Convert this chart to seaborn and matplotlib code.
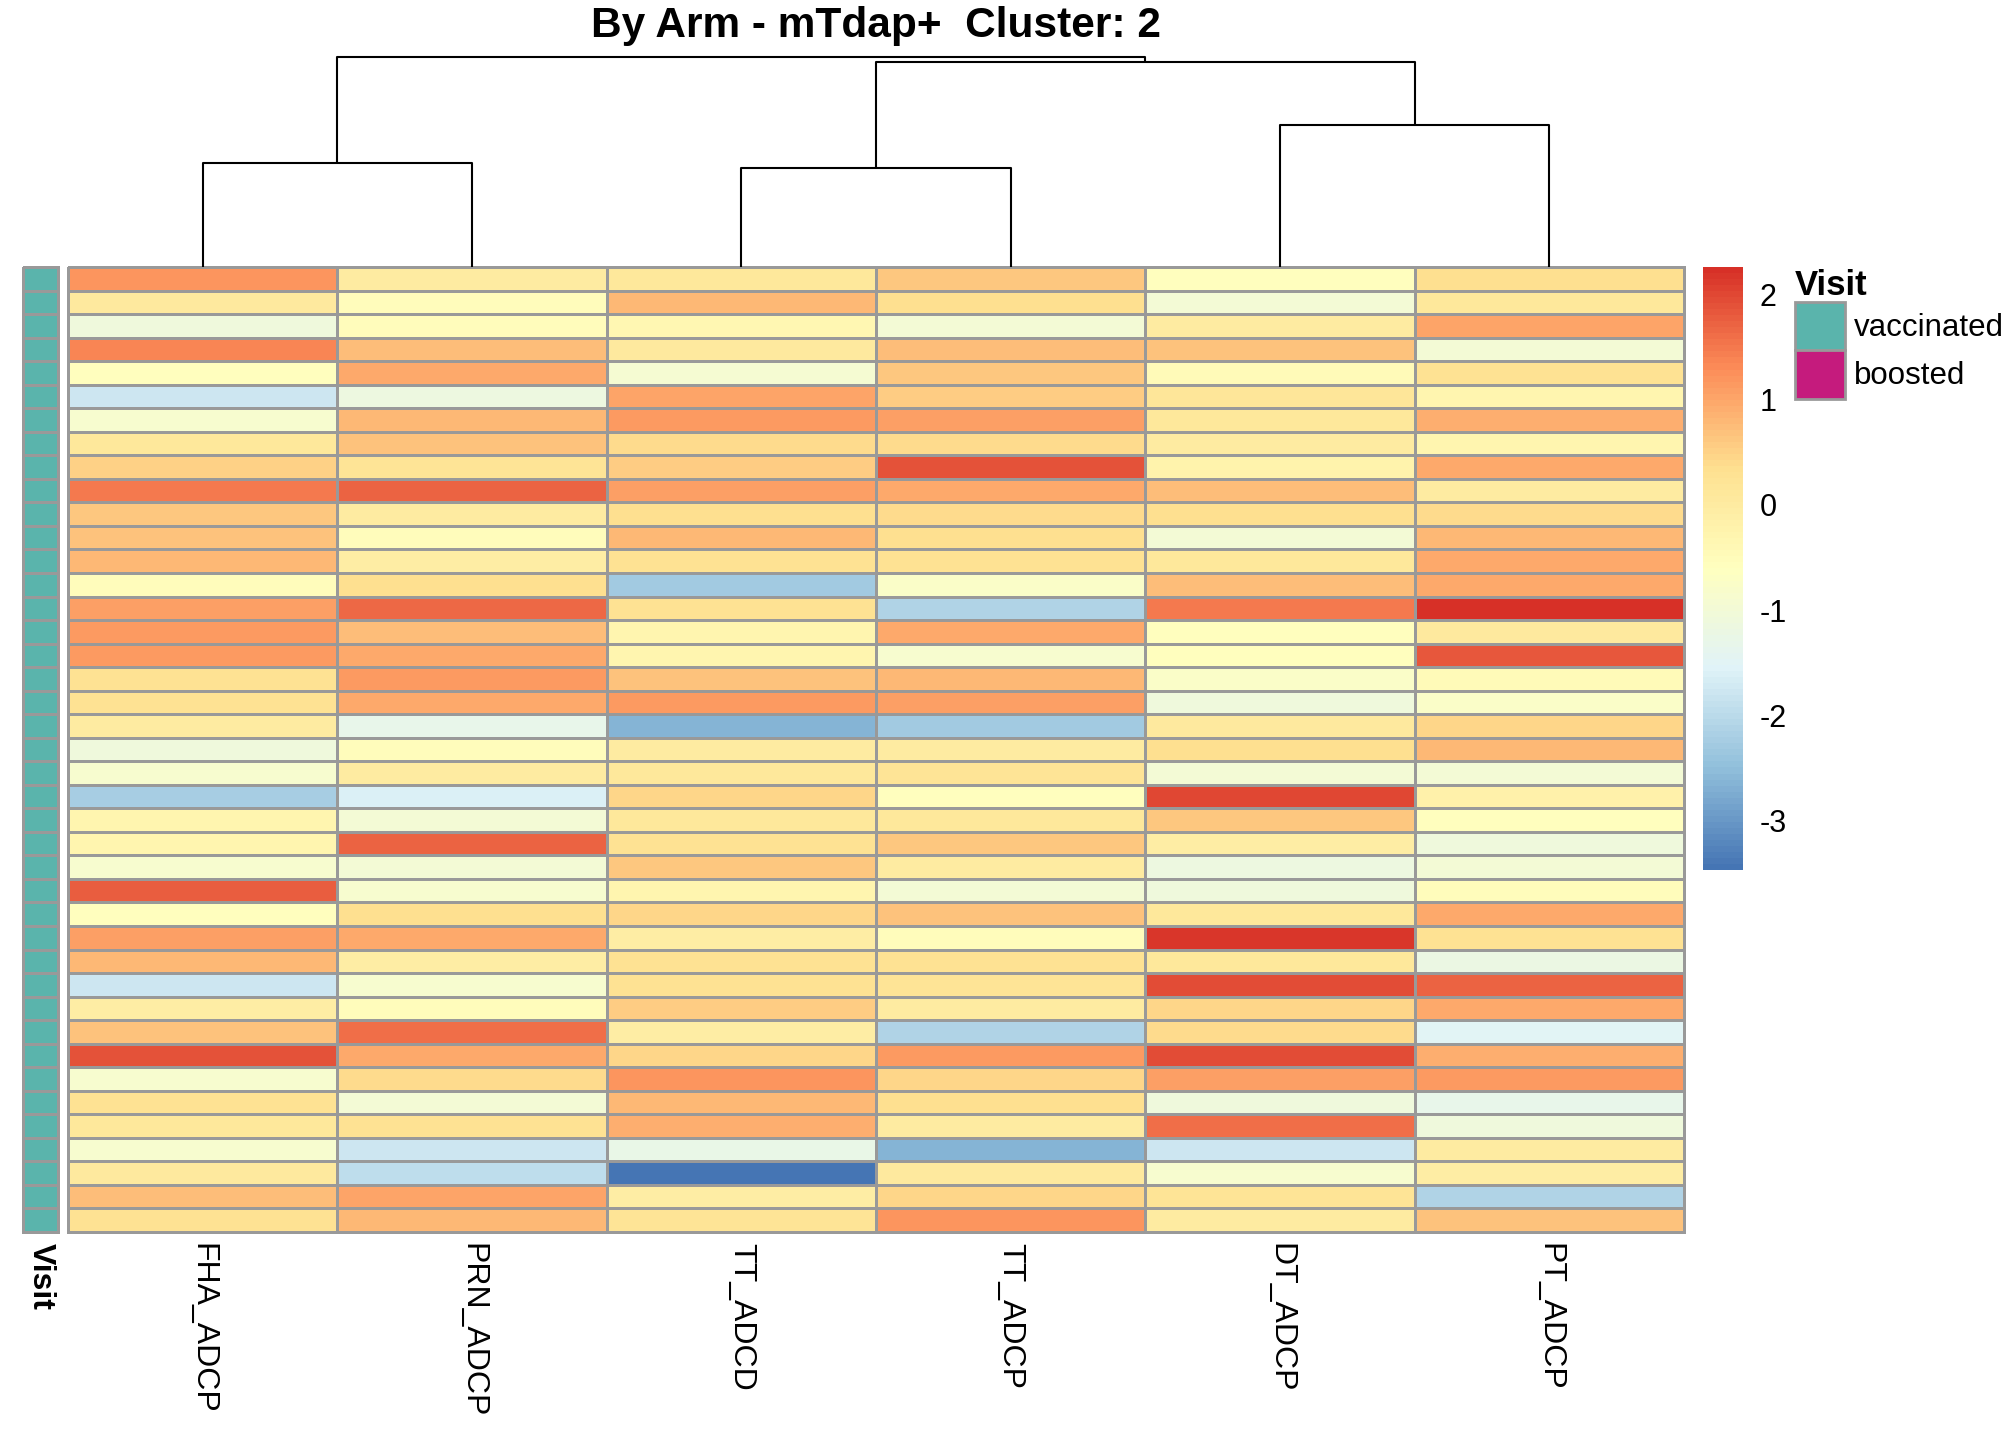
import numpy as np
import pandas as pd
import matplotlib
matplotlib.use("Agg")
import matplotlib.pyplot as plt
import seaborn as sns
from matplotlib.colors import LinearSegmentedColormap, ListedColormap
from matplotlib.patches import Patch

sns.set_style("white")
plt.rcParams['font.family'] = ['Liberation Sans', 'DejaVu Sans']
plt.rcParams['text.color'] = 'black'
plt.rcParams['xtick.color'] = 'black'
plt.rcParams['ytick.color'] = 'black'
plt.rcParams['axes.unicode_minus'] = False

# column order after clustering
features = ["FHA_ADCP", "PRN_ADCP", "TT_ADCD", "TT_ADCP", "DT_ADCP", "PT_ADCP"]

# scaled values, one list per feature (41 samples, top to bottom)
fha_adcp = [1.2, 0.05, -1.1, 1.4, -0.55, -1.8, -0.85, 0.1, 0.5, 1.5,
            0.6, 0.67, 0.78, -0.5, 1.1, 1.15, 1.15, 0.3, 0.3, 0.0,
            -1.1, -0.85, -2.25, -0.3, -0.3, -0.85, 1.75, -0.6, 1.1, 0.8,
            -1.8, -0.05, 0.67, 1.9, -0.85, 0.3, 0.1, -0.85, 0.05, 0.75, 0.3]
prn_adcp = [0.0, -0.5, -0.5, 0.72, 0.95, -1.15, 0.8, 0.67, 0.25, 1.7,
            0.0, -0.5, -0.05, 0.35, 1.65, 0.72, 0.95, 1.17, 0.95, -1.3,
            -0.5, 0.02, -1.6, -0.95, 1.7, -0.95, -0.85, 0.35, 0.97, -0.05,
            -0.85, -0.5, 1.62, 0.95, 0.37, -1.0, 0.3, -1.8, -1.95, 1.05, 0.78]
tt_adcd = [0.1, 0.8, -0.35, 0.08, -0.92, 1.05, 1.15, 0.4, 0.57, 1.1,
           0.35, 0.8, 0.3, -2.3, 0.3, -0.3, -0.3, 0.67, 1.15, -2.65,
           0.02, 0.1, 0.48, 0.1, 0.3, 0.64, -0.3, 0.48, -0.05, 0.3,
           0.3, 0.55, -0.08, 0.45, 1.2, 0.8, 0.92, -1.25, -3.47, -0.08, 0.22]
tt_adcp = [0.6, 0.35, -0.95, 0.72, 0.6, 0.57, 1.1, 0.4, 1.9, 0.95,
           0.4, 0.35, 0.3, -0.75, -2.15, 0.98, -0.85, 0.8, 1.08, -2.3,
           0.02, 0.22, -0.6, 0.1, 0.6, 0.0, -0.95, 0.67, -0.5, 0.3,
           0.22, 0.0, -2.1, 1.17, 0.48, 0.35, 0.0, -2.65, 0.05, 0.45, 1.2]
dt_adcp = [-0.55, -1.0, 0.0, 0.67, -0.45, 0.15, 0.1, 0.02, -0.25, 0.72,
           0.35, -1.0, 0.1, 0.75, 1.5, -0.55, -0.6, -0.75, -1.1, 0.08,
           0.35, -0.95, 2.0, 0.6, -0.05, -1.15, -1.1, 0.1, 2.2, 0.1,
           1.95, 0.45, 0.4, 1.93, 1.1, -1.1, 1.62, -1.8, -0.85, 0.22, 0.02]
pt_adcp = [0.35, 0.1, 1.05, -1.0, 0.3, -0.3, 0.92, -0.3, 0.98, 0.02,
           0.4, 0.78, 0.95, 0.98, 2.26, 0.05, 1.82, -0.45, -0.75, 0.45,
           0.8, -0.95, -0.2, -0.6, -1.1, -0.95, -0.5, 0.95, 0.3, -1.2,
           1.7, 0.95, -1.5, 0.92, 1.17, -1.3, -1.1, 0.0, -0.05, -2.1, 0.67]

visit = ["vaccinated"] * 41
visit_levels = ["vaccinated", "boosted"]
visit_colors = ["#5AB4AC", "#C51B7D"]

# column dendrogram: (left node, right node, height); leaves are 0..5
merges = [(0, 1, 0.81), (2, 3, 0.77), (4, 5, 1.10), (7, 8, 1.59), (6, 9, 1.63)]

df = pd.DataFrame({"FHA_ADCP": fha_adcp, "PRN_ADCP": prn_adcp, "TT_ADCD": tt_adcd,
                   "TT_ADCP": tt_adcp, "DT_ADCP": dt_adcp, "PT_ADCP": pt_adcp})[features]

palette = ["#4575B4", "#91BFDB", "#E0F3F8", "#FFFFBF", "#FEE090", "#FC8D59", "#D73027"]
cmap = LinearSegmentedColormap.from_list("rdylbu_r", palette, N=100)
grid = "#999999"

W, H = 2016, 1440
fig = plt.figure(figsize=(W / 100, H / 100), dpi=100)

def box(x0, y0, x1, y1):
    return [x0 / W, 1 - y1 / H, (x1 - x0) / W, (y1 - y0) / H]

ax = fig.add_axes(box(68, 267, 1684, 1232))
ax_ann = fig.add_axes(box(23, 267, 58, 1232))
ax_den = fig.add_axes(box(68, 57, 1684, 267))
cax = fig.add_axes(box(1703, 267, 1743, 870))

sns.heatmap(df, ax=ax, cmap=cmap, vmin=-3.47, vmax=2.26, linewidths=1.8,
            linecolor=grid, cbar_ax=cax, yticklabels=False, xticklabels=True)
ax.collections[0].set_clip_on(False)
ax.set_xticklabels(features, rotation=-90, fontsize=23, ha="center", va="top")
ax.tick_params(axis="x", length=0, pad=8)
ax.set_ylabel("")

cbar = ax.collections[0].colorbar
cbar.set_ticks([-3, -2, -1, 0, 1, 2])
cbar.ax.tick_params(length=0, labelsize=22, pad=12)
cbar.outline.set_visible(False)

# annotation column
ann = pd.DataFrame({"Visit": [visit_levels.index(v) for v in visit]})
sns.heatmap(ann, ax=ax_ann, cmap=ListedColormap(visit_colors), vmin=-0.5, vmax=1.5,
            linewidths=1.8, linecolor=grid, cbar=False, yticklabels=False)
ax_ann.collections[0].set_clip_on(False)
ax_ann.set_xticklabels(["Visit"], rotation=-90, fontsize=23, fontweight="bold",
                       ha="center", va="top")
ax_ann.tick_params(axis="x", length=0, pad=8)

# dendrogram
pos = {i: i + 0.5 for i in range(len(features))}
hgt = {i: 0.0 for i in range(len(features))}
node = len(features)
for a, b, h in merges:
    xa, xb = pos[a], pos[b]
    ax_den.plot([xa, xa, xb, xb], [hgt[a], h, h, hgt[b]], color="black",
                lw=1.5, clip_on=False, solid_capstyle="butt")
    pos[node] = (xa + xb) / 2
    hgt[node] = h
    node += 1
ax_den.set_xlim(0, len(features))
ax_den.set_ylim(0, merges[-1][2])
ax_den.axis("off")

fig.text(0.4345, 0.982, "By Arm - mTdap+  Cluster: 2", fontsize=30.5,
         fontweight="bold", ha="center", va="center")

handles = [Patch(facecolor=c, edgecolor=grid, linewidth=2) for c in visit_colors]
leg = fig.legend(handles, visit_levels, loc="upper left",
                 bbox_to_anchor=(1795 / W, 1 - 269 / H), frameon=False,
                 fontsize=22.5, title="Visit", alignment="left",
                 handlelength=1.6, handleheight=2.0, labelspacing=0,
                 handletextpad=0.3, borderpad=0, borderaxespad=0)
leg.get_title().set_fontweight("bold")
leg.get_title().set_fontsize(25)

fig.savefig("out.png", dpi=100)
